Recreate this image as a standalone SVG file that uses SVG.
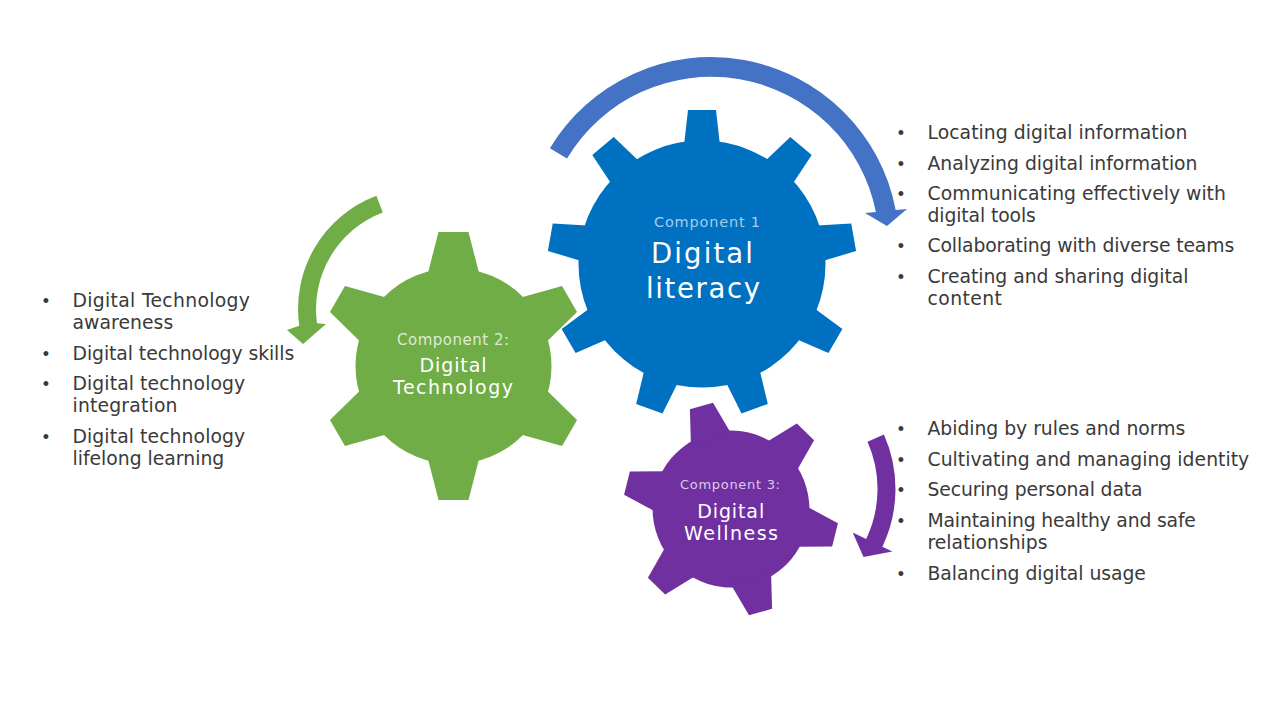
<svg xmlns="http://www.w3.org/2000/svg" width="1280" height="720" viewBox="0 0 1280 720">
<style>
.list{font-family:"DejaVu Sans","Liberation Sans",sans-serif;font-size:18.8px;fill:#3a3a3a;}
.bul{font-family:"Liberation Sans",Arial,sans-serif;font-size:18px;fill:#3a3a3a;text-anchor:middle;}
.sub{font-family:"DejaVu Sans","Liberation Sans",sans-serif;text-anchor:middle;}
.title{font-family:"DejaVu Sans","Liberation Sans",sans-serif;text-anchor:middle;fill:#ffffff;}
</style>
<defs>
<path id="t9" d="M-18.3 -116 L-14 -154 L14 -154 L18.3 -116 Z"/>
<path id="t6" d="M-26.3 -90 L-15 -134 L15 -134 L26.3 -90 Z"/>
<g id="gear6">
<circle r="98"/>
<use href="#t6"/><use href="#t6" transform="rotate(60)"/><use href="#t6" transform="rotate(120)"/>
<use href="#t6" transform="rotate(180)"/><use href="#t6" transform="rotate(240)"/><use href="#t6" transform="rotate(300)"/>
</g>
</defs>
<rect width="1280" height="720" fill="#ffffff"/>

<g id="gear-digital-technology">
<g fill="#70AD47" transform="translate(453.5 366)"><use href="#gear6"/></g>
<text class="sub" x="453" y="345" font-size="15" fill="#DDEBD3" textLength="112">Component 2:</text>
<text class="title" x="453" y="371.7" font-size="19" textLength="67">Digital</text>
<text class="title" x="453" y="394" font-size="19" textLength="120">Technology</text>
</g>

<g id="gear-digital-literacy">
<g fill="#0070C0" transform="translate(702 264)">
<circle r="123.5"/>
<use href="#t9"/><use href="#t9" transform="rotate(40)"/><use href="#t9" transform="rotate(80)"/>
<use href="#t9" transform="rotate(120)"/><use href="#t9" transform="rotate(160)"/><use href="#t9" transform="rotate(200)"/>
<use href="#t9" transform="rotate(240)"/><use href="#t9" transform="rotate(280)"/><use href="#t9" transform="rotate(320)"/>
</g>
<text class="sub" x="707" y="226.7" font-size="14.5" fill="#A6CBEC" textLength="106">Component 1</text>
<text class="title" x="702" y="263.3" font-size="27.5" textLength="102">Digital</text>
<text class="title" x="703" y="298.3" font-size="27.5" textLength="114">literacy</text>
</g>

<g id="gear-digital-wellness">
<g fill="#7030A0" transform="translate(731 509) scale(0.8) rotate(-16)"><use href="#gear6"/></g>
<text class="sub" x="730" y="489.3" font-size="13" fill="#DCCBEA" textLength="100">Component 3:</text>
<text class="title" x="730.7" y="517.5" font-size="19" textLength="67">Digital</text>
<text class="title" x="731" y="540" font-size="19" textLength="94">Wellness</text>
</g>

<g id="connectors">
<path fill="#4472C4" d="M549.9 148.2 A188 188 0 0 1 895.7 210.1 L907 209 L887 226 L865 213 L875.9 212 A168 168 0 0 0 567 158.5 Z"/>
<path fill="#70AD47" d="M376.4 195.7 A121 121 0 0 0 299.2 325.8 L287 330 L303 344 L326 324 L317 323.3 A103 103 0 0 1 382.8 212.6 Z"/>
<path fill="#7030A0" d="M883.9 434.5 A134 134 0 0 1 882.4 546.7 L892.4 551.4 L863.5 557 L852.7 532.5 L866.2 538.9 A116 116 0 0 0 867.5 441.8 Z"/>
</g>

<g id="list-technology">
<text class="bul" x="46" y="307">•</text>
<text class="list" x="72.5" y="307" textLength="177.4">Digital Technology</text>
<text class="list" x="72.5" y="329" textLength="100.7">awareness</text>
<text class="bul" x="46" y="360">•</text>
<text class="list" x="72.5" y="360" textLength="221.7">Digital technology skills</text>
<text class="bul" x="46" y="390">•</text>
<text class="list" x="72.5" y="390" textLength="172.7">Digital technology</text>
<text class="list" x="72.5" y="412" textLength="105">integration</text>
<text class="bul" x="46" y="443">•</text>
<text class="list" x="72.5" y="443" textLength="172.7">Digital technology</text>
<text class="list" x="72.5" y="465" textLength="151.7">lifelong learning</text>
</g>

<g id="list-literacy">
<text class="bul" x="901" y="139.3">•</text>
<text class="list" x="927.5" y="139.3" textLength="260">Locating digital information</text>
<text class="bul" x="901" y="169.5">•</text>
<text class="list" x="927.5" y="169.5" textLength="270">Analyzing digital information</text>
<text class="bul" x="901" y="200">•</text>
<text class="list" x="927.5" y="200" textLength="298.4">Communicating effectively with</text>
<text class="list" x="927.5" y="222" textLength="108.4">digital tools</text>
<text class="bul" x="901" y="252">•</text>
<text class="list" x="927.5" y="252" textLength="306.7">Collaborating with diverse teams</text>
<text class="bul" x="901" y="282.5">•</text>
<text class="list" x="927.5" y="282.5" textLength="261">Creating and sharing digital</text>
<text class="list" x="927.5" y="304.5" textLength="74.4">content</text>
</g>

<g id="list-wellness">
<text class="bul" x="901" y="435">•</text>
<text class="list" x="927.5" y="435" textLength="257.7">Abiding by rules and norms</text>
<text class="bul" x="901" y="465.5">•</text>
<text class="list" x="927.5" y="465.5" textLength="321.7">Cultivating and managing identity</text>
<text class="bul" x="901" y="496">•</text>
<text class="list" x="927.5" y="496" textLength="215">Securing personal data</text>
<text class="bul" x="901" y="526.5">•</text>
<text class="list" x="927.5" y="526.5" textLength="268.4">Maintaining healthy and safe</text>
<text class="list" x="927.5" y="548.5" textLength="120">relationships</text>
<text class="bul" x="901" y="579.5">•</text>
<text class="list" x="927.5" y="579.5" textLength="218.4">Balancing digital usage</text>
</g>
</svg>
